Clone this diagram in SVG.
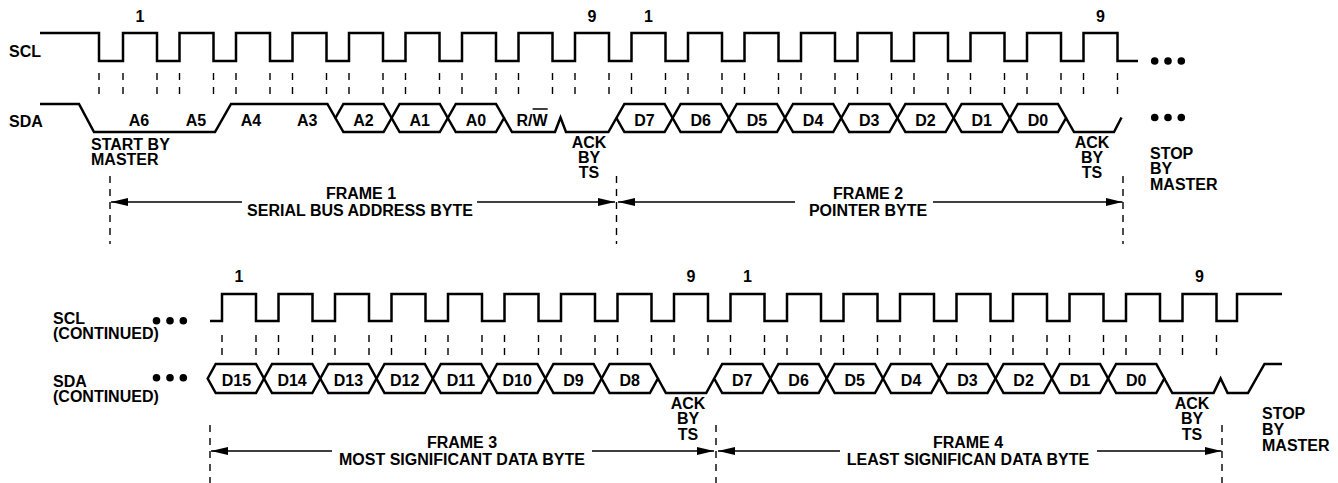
<svg xmlns="http://www.w3.org/2000/svg" width="1338" height="483" viewBox="0 0 1338 483">
<style>
.w{fill:none;stroke:#000;stroke-width:2.5}
.hx{fill:none;stroke:#000;stroke-width:2.5}
.d1{fill:none;stroke:#000;stroke-width:1.4;stroke-dasharray:7 7}
.d2{fill:none;stroke:#000;stroke-width:1.4;stroke-dasharray:7 6}
.ar{fill:none;stroke:#000;stroke-width:1.5;marker-end:url(#ah)}
text{font-family:"Liberation Sans",Arial,Helvetica,sans-serif;font-weight:bold;font-size:16px;fill:#000}
.c{text-anchor:middle}
</style>
<defs>
<marker id="ah" viewBox="0 0 17 8" refX="17" refY="4" markerWidth="17" markerHeight="8" markerUnits="userSpaceOnUse" orient="auto">
<path d="M0,0 L17,4 L0,8 Z" fill="#000"/>
</marker>
</defs>
<rect width="1338" height="483" fill="#fff"/>

<g id="top-signals">
<text x="9" y="57">SCL</text>
<text x="9" y="127">SDA</text>
<path class="w" d="M40,33 H99 V61 H123 V33 H157 V61 H179.5 V33 H213.5 V61 H236 V33 H270 V61 H292.5 V33 H326.5 V61 H349 V33 H383 V61 H405.5 V33 H439.5 V61 H462 V33 H496 V61 H518.5 V33 H552.5 V61 H575 V33 H609 V61 H631.5 V33 H665.5 V61 H688 V33 H722 V61 H744.5 V33 H778.5 V61 H801 V33 H835 V61 H857.5 V33 H891.5 V61 H914 V33 H948 V61 H970.5 V33 H1004.5 V61 H1027 V33 H1061 V61 H1083.5 V33 H1117.5 V61 H1138"/>
<path class="d1" d="M99,73V95M123,73V95M157,73V95M179.5,73V95M213.5,73V95M236,73V95M270,73V95M292.5,73V95M326.5,73V95M349,73V95M383,73V95M405.5,73V95M439.5,73V95M462,73V95M496,73V95M518.5,73V95M552.5,73V95M575,73V95M609,73V95M631.5,73V95M665.5,73V95M688,73V95M722,73V95M744.5,73V95M778.5,73V95M801,73V95M835,73V95M857.5,73V95M891.5,73V95M914,73V95M948,73V95M970.5,73V95M1004.5,73V95M1027,73V95M1061,73V95M1083.5,73V95M1117.5,73V95"/>
<path class="w" d="M40,104 H79 L94,132 H215 L231,104 H327.4 L335.4,118"/>
<path class="w" d="M504,118 L512,132 H555 L560.5,117.5 L566,132 H608.4 L616.4,118"/>
<path class="w" d="M1066,118 L1074,132 H1114 L1121.5,117.5"/>
<g class="hx">
<polygon points="335.4,118 343.4,104 383.6,104 391.6,118 383.6,132 343.4,132"/>
<polygon points="391.6,118 399.6,104 439.8,104 447.8,118 439.8,132 399.6,132"/>
<polygon points="447.8,118 455.8,104 496,104 504,118 496,132 455.8,132"/>
<polygon points="616.4,118 624.4,104 664.6,104 672.6,118 664.6,132 624.4,132"/>
<polygon points="672.6,118 680.6,104 720.8,104 728.8,118 720.8,132 680.6,132"/>
<polygon points="728.8,118 736.8,104 777,104 785,118 777,132 736.8,132"/>
<polygon points="785,118 793,104 833.2,104 841.2,118 833.2,132 793,132"/>
<polygon points="841.2,118 849.2,104 889.4,104 897.4,118 889.4,132 849.2,132"/>
<polygon points="897.4,118 905.4,104 945.6,104 953.6,118 945.6,132 905.4,132"/>
<polygon points="953.6,118 961.6,104 1001.8,104 1009.8,118 1001.8,132 961.6,132"/>
<polygon points="1009.8,118 1017.8,104 1058,104 1066,118 1058,132 1017.8,132"/>
</g>
<g class="c">
<text x="140" y="22">1</text>
<text x="592" y="22">9</text>
<text x="648.5" y="22">1</text>
<text x="1100.5" y="22">9</text>
<text x="139" y="126">A6</text>
<text x="196" y="126">A5</text>
<text x="251" y="126">A4</text>
<text x="307.3" y="126">A3</text>
<text x="363.5" y="126">A2</text>
<text x="419.7" y="126">A1</text>
<text x="475.9" y="126">A0</text>
<text x="532.1" y="126">R/W</text>
<text x="644.5" y="126">D7</text>
<text x="700.7" y="126">D6</text>
<text x="756.9" y="126">D5</text>
<text x="813.1" y="126">D4</text>
<text x="869.3" y="126">D3</text>
<text x="925.5" y="126">D2</text>
<text x="981.7" y="126">D1</text>
<text x="1037.9" y="126">D0</text>
</g>
<line x1="532.6" y1="109" x2="547.7" y2="109" stroke="#000" stroke-width="1.5"/>
<circle cx="1154.7" cy="61" r="3.8"/><circle cx="1168" cy="61" r="3.8"/><circle cx="1181.3" cy="61" r="3.8"/>
<circle cx="1154.7" cy="117.5" r="3.8"/><circle cx="1168" cy="117.5" r="3.8"/><circle cx="1181.3" cy="117.5" r="3.8"/>
<text x="91" y="150">START BY</text>
<text x="91" y="165">MASTER</text>
<g class="c">
<text x="589" y="148">ACK</text><text x="589" y="163">BY</text><text x="589" y="178">TS</text>
<text x="1092" y="148">ACK</text><text x="1092" y="163">BY</text><text x="1092" y="178">TS</text>
</g>
<text x="1150" y="159">STOP</text><text x="1150" y="174">BY</text><text x="1150" y="190">MASTER</text>
</g>

<g id="top-frames">
<path class="d2" d="M110,176V244M616.5,176V244M1123,176V244"/>
<line class="ar" x1="242" y1="202" x2="111" y2="202"/>
<line class="ar" x1="477" y1="202" x2="615" y2="202"/>
<line class="ar" x1="795" y1="202" x2="618" y2="202"/>
<line class="ar" x1="933" y1="202" x2="1122.5" y2="202"/>
<g class="c">
<text x="361" y="199">FRAME 1</text>
<text x="360" y="216">SERIAL BUS ADDRESS BYTE</text>
<text x="868" y="199">FRAME 2</text>
<text x="868" y="216">POINTER BYTE</text>
</g>
</g>

<g id="bottom-signals">
<text x="53" y="324">SCL</text>
<text x="53" y="339">(CONTINUED)</text>
<text x="53" y="387">SDA</text>
<text x="53" y="402">(CONTINUED)</text>
<circle cx="156.5" cy="320.7" r="3.8"/><circle cx="170" cy="320.7" r="3.8"/><circle cx="183.3" cy="320.7" r="3.8"/>
<circle cx="156.5" cy="377.7" r="3.8"/><circle cx="170" cy="377.7" r="3.8"/><circle cx="183.3" cy="377.7" r="3.8"/>
<path class="w" d="M210,321 H222 V294 H256 V321 H278.5 V294 H312.5 V321 H335 V294 H369 V321 H391.5 V294 H425.5 V321 H448 V294 H482 V321 H504.5 V294 H538.5 V321 H561 V294 H595 V321 H617.5 V294 H651.5 V321 H674 V294 H708 V321 H730.5 V294 H764.5 V321 H787 V294 H821 V321 H843.5 V294 H877.5 V321 H900 V294 H934 V321 H956.5 V294 H990.5 V321 H1013 V294 H1047 V321 H1069.5 V294 H1103.5 V321 H1126 V294 H1160 V321 H1182.5 V294 H1216.5 V321 H1237 V294 H1282"/>
<path class="d2" d="M222,335V356M256,335V356M278.5,335V356M312.5,335V356M335,335V356M369,335V356M391.5,335V356M425.5,335V356M448,335V356M482,335V356M504.5,335V356M538.5,335V356M561,335V356M595,335V356M617.5,335V356M651.5,335V356M674,335V356M708,335V356M730.5,335V356M764.5,335V356M787,335V356M821,335V356M843.5,335V356M877.5,335V356M900,335V356M934,335V356M956.5,335V356M990.5,335V356M1013,335V356M1047,335V356M1069.5,335V356M1103.5,335V356M1126,335V356M1160,335V356M1182.5,335V356M1216.5,335V356"/>
<g class="hx">
<polygon points="207.7,378.5 215.7,364 256,364 264,378.5 256,393 215.7,393"/>
<polygon points="264,378.5 272,364 312.3,364 320.3,378.5 312.3,393 272,393"/>
<polygon points="320.3,378.5 328.3,364 368.5,364 376.5,378.5 368.5,393 328.3,393"/>
<polygon points="376.5,378.5 384.5,364 424.8,364 432.8,378.5 424.8,393 384.5,393"/>
<polygon points="432.8,378.5 440.8,364 481.1,364 489.1,378.5 481.1,393 440.8,393"/>
<polygon points="489.1,378.5 497.1,364 537.4,364 545.4,378.5 537.4,393 497.1,393"/>
<polygon points="545.4,378.5 553.4,364 593.6,364 601.6,378.5 593.6,393 553.4,393"/>
<polygon points="601.6,378.5 609.6,364 649.9,364 657.9,378.5 649.9,393 609.6,393"/>
<polygon points="714.2,378.5 722.2,364 762.4,364 770.4,378.5 762.4,393 722.2,393"/>
<polygon points="770.4,378.5 778.4,364 818.7,364 826.7,378.5 818.7,393 778.4,393"/>
<polygon points="826.7,378.5 834.7,364 875,364 883,378.5 875,393 834.7,393"/>
<polygon points="883,378.5 891,364 931.2,364 939.2,378.5 931.2,393 891,393"/>
<polygon points="939.2,378.5 947.2,364 987.5,364 995.5,378.5 987.5,393 947.2,393"/>
<polygon points="995.5,378.5 1003.5,364 1043.8,364 1051.8,378.5 1043.8,393 1003.5,393"/>
<polygon points="1051.8,378.5 1059.8,364 1100.1,364 1108.1,378.5 1100.1,393 1059.8,393"/>
<polygon points="1108.1,378.5 1116.1,364 1156.3,364 1164.3,378.5 1156.3,393 1116.1,393"/>
</g>
<path class="w" d="M657.9,378.5 L665.9,393 H706.2 L714.2,378.5"/>
<path class="w" d="M1164.3,378.5 L1172.3,393 H1213.6 L1220.6,378.5 L1227.6,393 H1248 L1264.5,364 H1282"/>
<g class="c">
<text x="239" y="282">1</text>
<text x="691" y="282">9</text>
<text x="747.5" y="282">1</text>
<text x="1199.5" y="282">9</text>
<text x="236.5" y="386">D15</text>
<text x="292.1" y="386">D14</text>
<text x="348.4" y="386">D13</text>
<text x="404.7" y="386">D12</text>
<text x="461" y="386">D11</text>
<text x="517.2" y="386">D10</text>
<text x="573.5" y="386">D9</text>
<text x="629.8" y="386">D8</text>
<text x="742.3" y="386">D7</text>
<text x="798.6" y="386">D6</text>
<text x="854.8" y="386">D5</text>
<text x="911.1" y="386">D4</text>
<text x="967.4" y="386">D3</text>
<text x="1023.6" y="386">D2</text>
<text x="1079.9" y="386">D1</text>
<text x="1136.2" y="386">D0</text>
<text x="688" y="409">ACK</text><text x="688" y="424">BY</text><text x="688" y="440">TS</text>
<text x="1192" y="409">ACK</text><text x="1192" y="424">BY</text><text x="1192" y="440">TS</text>
</g>
<text x="1262" y="419">STOP</text><text x="1262" y="435">BY</text><text x="1262" y="451">MASTER</text>
</g>

<g id="bottom-frames">
<path class="d2" d="M210,425V483M716,425V483M1222,425V483"/>
<line class="ar" x1="332" y1="451" x2="211" y2="451"/>
<line class="ar" x1="592" y1="451" x2="714" y2="451"/>
<line class="ar" x1="840" y1="451" x2="718" y2="451"/>
<line class="ar" x1="1097" y1="451" x2="1221.5" y2="451"/>
<g class="c">
<text x="462" y="448">FRAME 3</text>
<text x="462" y="465">MOST SIGNIFICANT DATA BYTE</text>
<text x="968" y="448">FRAME 4</text>
<text x="968" y="465">LEAST SIGNIFICAN DATA BYTE</text>
</g>
</g>
</svg>
